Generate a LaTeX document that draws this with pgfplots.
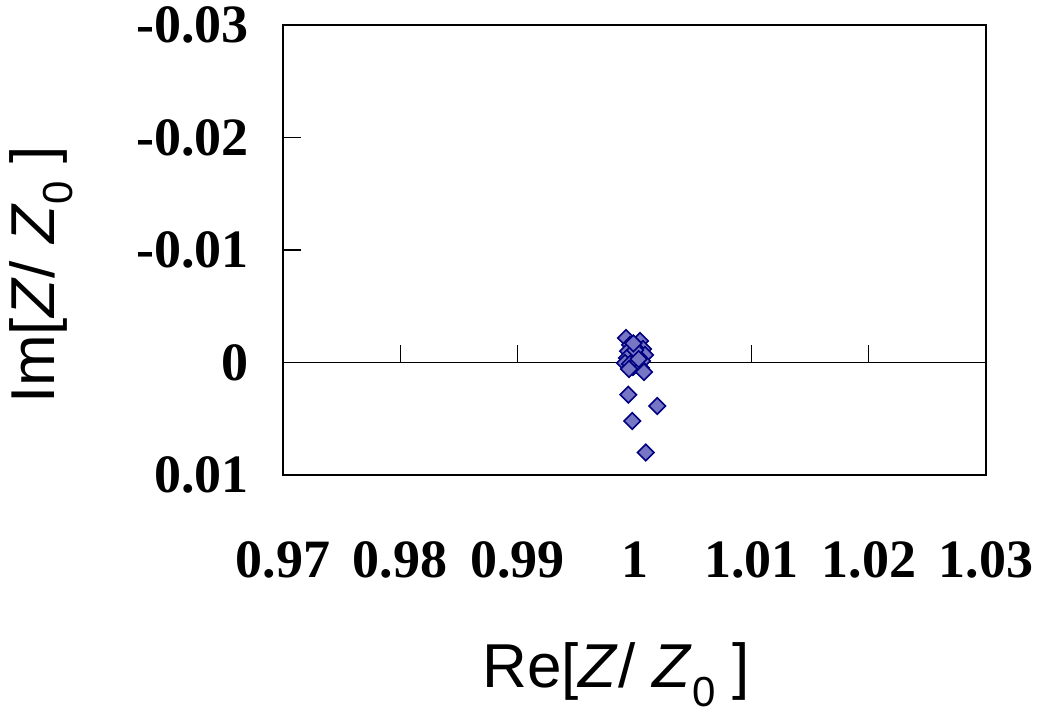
\documentclass[border=0pt]{standalone}
\usepackage{fontspec}
\setmainfont{Liberation Serif}
\newfontfamily\arial{Liberation Sans}
\usepackage{pgfplots}
\pgfplotsset{compat=1.18}
\begin{document}
\begin{tikzpicture}
\definecolor{mkfill}{RGB}{118,118,196}
\definecolor{mkedge}{RGB}{0,0,128}
% page frame matching the reference margins
\useasboundingbox (-141.5pt,-116pt) rectangle (377pt,237.5pt);
\begin{axis}[
  at={(0,0)}, anchor=south west,
  width=351.5pt, height=225pt,
  scale only axis,
  xmin=0.97, xmax=1.03,
  ymin=-0.03, ymax=0.01,
  y dir=reverse,
  scaled x ticks=false, scaled y ticks=false,
  axis line style={line width=1pt},
  xtick={0.97,0.98,0.99,1,1.01,1.02,1.03},
  xticklabels={0.97,0.98,0.99,1,1.01,1.02,1.03},
  ytick={-0.03,-0.02,-0.01,0,0.01},
  yticklabels={-0.03,-0.02,-0.01,0,0.01},
  x tick style={draw=none},
  ytick pos=left,
  tick align=inside,
  major tick length=9pt,
  y tick style={line width=0.6pt, black},
  tick label style={font=\fontsize{27}{30}\selectfont\bfseries},
  x tick label style={anchor=base, yshift=-51pt},
  y tick label style={xshift=-13.5pt},
  xlabel={Re[\textit{Z}/ \textit{Z}\raisebox{-0.3em}{\fontsize{21}{22}\selectfont 0} ]},
  ylabel={Im[\textit{Z}/ \textit{Z}\raisebox{-0.3em}{\fontsize{21}{22}\selectfont 0} ]},
  every axis x label/.style={at={(axis description cs:0.474,-0.472)}, anchor=base,
    font=\arial\fontsize{31}{34}\selectfont},
  every axis y label/.style={at={(axis description cs:-0.344,0.444)}, rotate=90, anchor=center,
    font=\arial\fontsize{31}{34}\selectfont},
  clip=false,
]
% zero line with its tick marks (Excel style crossing axis)
\addplot[black, line width=0.6pt, forget plot] coordinates {(0.97,0) (1.03,0)};
\draw[black, line width=0.6pt] (axis cs:0.98,0) -- (axis cs:0.98,-0.0016);
\draw[black, line width=0.6pt] (axis cs:0.99,0) -- (axis cs:0.99,-0.0016);
\draw[black, line width=0.6pt] (axis cs:1.00,0) -- (axis cs:1.00,-0.0016);
\draw[black, line width=0.6pt] (axis cs:1.01,0) -- (axis cs:1.01,-0.0016);
\draw[black, line width=0.6pt] (axis cs:1.02,0) -- (axis cs:1.02,-0.0016);
\addplot[only marks, mark=square*, mark size=2.9pt,
  mark options={fill=mkfill, draw=mkedge, line width=0.8pt, rotate=45}]
  coordinates {
  (0.99927,-0.00218) (1.00047,-0.00191) (0.99962,-0.00156) (1.00013,-0.00147)
  (1.00073,-0.00120) (0.99945,-0.00102) (0.99996,-0.00093) (1.00047,-0.00084)
  (1.00090,-0.00067) (0.99979,-0.00058) (1.00030,-0.00049) (0.99936,-0.00040)
  (1.00013,-0.00022) (1.00064,-0.00013) (0.99919,0.00004) (0.99962,0.00013)
  (1.00021,0.00022) (0.99987,0.00040) (1.00055,0.00049) (1.00081,0.00084)
  (0.99953,0.00058) (1.00005,-0.00110) (1.00035,-0.00030) (0.99990,-0.00170)
  (0.99947,0.00286) (1.00194,0.00387) (0.99981,0.00520) (1.00096,0.00800)
  };
\end{axis}
\end{tikzpicture}
\end{document}
